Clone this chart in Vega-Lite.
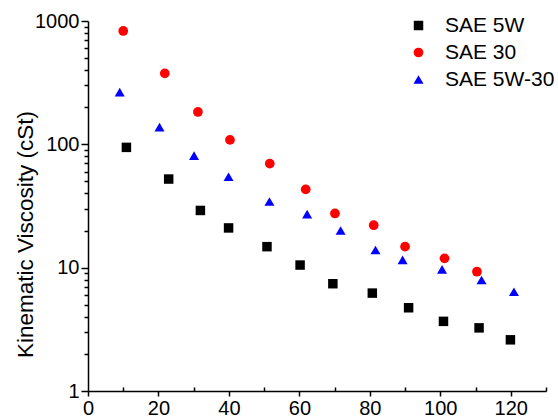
{
  "$schema": "https://vega.github.io/schema/vega-lite/v6.json",
  "autosize": {"type": "none"},
  "padding": {"left": 88, "top": 21, "right": 12, "bottom": 25},
  "width": 458,
  "height": 370,
  "background": "white",
  "config": {
    "font": "Liberation Sans",
    "view": {"stroke": null},
    "axis": {"grid": false, "domainColor": "black", "tickColor": "black", "labelColor": "black", "titleColor": "black", "domainWidth": 1.5, "tickWidth": 1.5, "labelFont": "Liberation Sans", "titleFont": "Liberation Sans"},
    "legend": {"labelFont": "Liberation Sans"}
  },
  "data": {
    "values": [
      {"oil": "SAE 5W", "t": 10.9, "v": 94.5},
      {"oil": "SAE 5W", "t": 22.9, "v": 52.3},
      {"oil": "SAE 5W", "t": 31.9, "v": 29.1},
      {"oil": "SAE 5W", "t": 39.9, "v": 21.0},
      {"oil": "SAE 5W", "t": 50.8, "v": 14.8},
      {"oil": "SAE 5W", "t": 60.2, "v": 10.5},
      {"oil": "SAE 5W", "t": 69.5, "v": 7.41},
      {"oil": "SAE 5W", "t": 80.7, "v": 6.22},
      {"oil": "SAE 5W", "t": 91.0, "v": 4.73},
      {"oil": "SAE 5W", "t": 100.9, "v": 3.67},
      {"oil": "SAE 5W", "t": 111.0, "v": 3.25},
      {"oil": "SAE 5W", "t": 119.9, "v": 2.6},
      {"oil": "SAE 30", "t": 10.0, "v": 830},
      {"oil": "SAE 30", "t": 21.8, "v": 376},
      {"oil": "SAE 30", "t": 31.2, "v": 183},
      {"oil": "SAE 30", "t": 40.3, "v": 108.6},
      {"oil": "SAE 30", "t": 51.6, "v": 69.7},
      {"oil": "SAE 30", "t": 61.8, "v": 43.1},
      {"oil": "SAE 30", "t": 70.1, "v": 27.5},
      {"oil": "SAE 30", "t": 81.1, "v": 22.1},
      {"oil": "SAE 30", "t": 90.0, "v": 14.8},
      {"oil": "SAE 30", "t": 101.2, "v": 11.9},
      {"oil": "SAE 30", "t": 110.4, "v": 9.27},
      {"oil": "SAE 5W-30", "t": 9.0, "v": 265},
      {"oil": "SAE 5W-30", "t": 20.3, "v": 138},
      {"oil": "SAE 5W-30", "t": 30.1, "v": 81},
      {"oil": "SAE 5W-30", "t": 39.9, "v": 54.6},
      {"oil": "SAE 5W-30", "t": 51.5, "v": 34.4},
      {"oil": "SAE 5W-30", "t": 62.2, "v": 27.2},
      {"oil": "SAE 5W-30", "t": 71.7, "v": 20.0},
      {"oil": "SAE 5W-30", "t": 81.6, "v": 13.9},
      {"oil": "SAE 5W-30", "t": 89.3, "v": 11.55},
      {"oil": "SAE 5W-30", "t": 100.5, "v": 9.7},
      {"oil": "SAE 5W-30", "t": 111.7, "v": 7.94},
      {"oil": "SAE 5W-30", "t": 120.9, "v": 6.38}
    ]
  },
  "resolve": {"scale": {"x": "shared", "y": "shared"}, "axis": {"x": "independent", "y": "independent"}},
  "layer": [
    {
      "mark": {"type": "point", "filled": true, "opacity": 1, "size": 100},
      "encoding": {
        "x": {"field": "t", "type": "quantitative", "scale": {"domain": [0, 130], "nice": false, "zero": false},
          "axis": {"orient": "bottom", "values": [0, 20, 40, 60, 80, 100, 120], "tickSize": 5, "labelFontSize": 20, "labelPadding": 2, "title": null, "labelFlush": false}},
        "y": {"field": "v", "type": "quantitative", "scale": {"type": "log", "domain": [1, 1000], "nice": false},
          "axis": {"orient": "left", "values": [1, 10, 100, 1000], "format": "d", "tickSize": 7, "labelFontSize": 20, "labelPadding": 2, "labelFlush": false,
            "title": "Kinematic Viscosity (cSt)", "titleFontSize": 22.5, "titleFontWeight": "normal", "titleX": -63, "titleY": 213, "titleAlign": "center", "titleBaseline": "middle", "titleAngle": -90}},
        "color": {"field": "oil", "type": "nominal",
          "scale": {"domain": ["SAE 5W", "SAE 30", "SAE 5W-30"], "range": ["#000000", "#ff0000", "#0000ff"]},
          "legend": {"title": null, "orient": "none", "legendX": 320, "legendY": -6, "labelFontSize": 21, "labelColor": "black", "symbolSize": 110, "rowPadding": 5, "labelOffset": 16, "padding": 0, "symbolStrokeWidth": 0}},
        "shape": {"field": "oil", "type": "nominal",
          "scale": {"domain": ["SAE 5W", "SAE 30", "SAE 5W-30"], "range": ["square", "circle", "triangle-up"]},
          "legend": {"title": null, "orient": "none", "legendX": 320, "legendY": -6, "labelFontSize": 21, "labelColor": "black", "symbolSize": 110, "rowPadding": 5, "labelOffset": 16, "padding": 0, "symbolStrokeWidth": 0}},
        "size": {"field": "oil", "type": "nominal",
          "scale": {"domain": ["SAE 5W", "SAE 30", "SAE 5W-30"], "range": [90, 100, 121]},
          "legend": null}
      }
    },
    {
      "mark": {"type": "point", "opacity": 0},
      "encoding": {
        "x": {"field": "t", "type": "quantitative",
          "axis": {"orient": "bottom", "offset": 0, "values": [10, 30, 50, 70, 90, 110, 130], "tickSize": -4, "tickColor": "black", "labelOpacity": 0, "labelFontSize": 1, "domainOpacity": 0, "title": null}},
        "y": {"field": "v", "type": "quantitative",
          "axis": {"orient": "left", "offset": 0, "values": [2, 3, 4, 5, 6, 7, 8, 9, 20, 30, 40, 50, 60, 70, 80, 90, 200, 300, 400, 500, 600, 700, 800, 900], "tickSize": 4, "tickColor": "black", "labelOpacity": 0, "labelFontSize": 1, "domainOpacity": 0, "title": null}}
      }
    }
  ]
}
